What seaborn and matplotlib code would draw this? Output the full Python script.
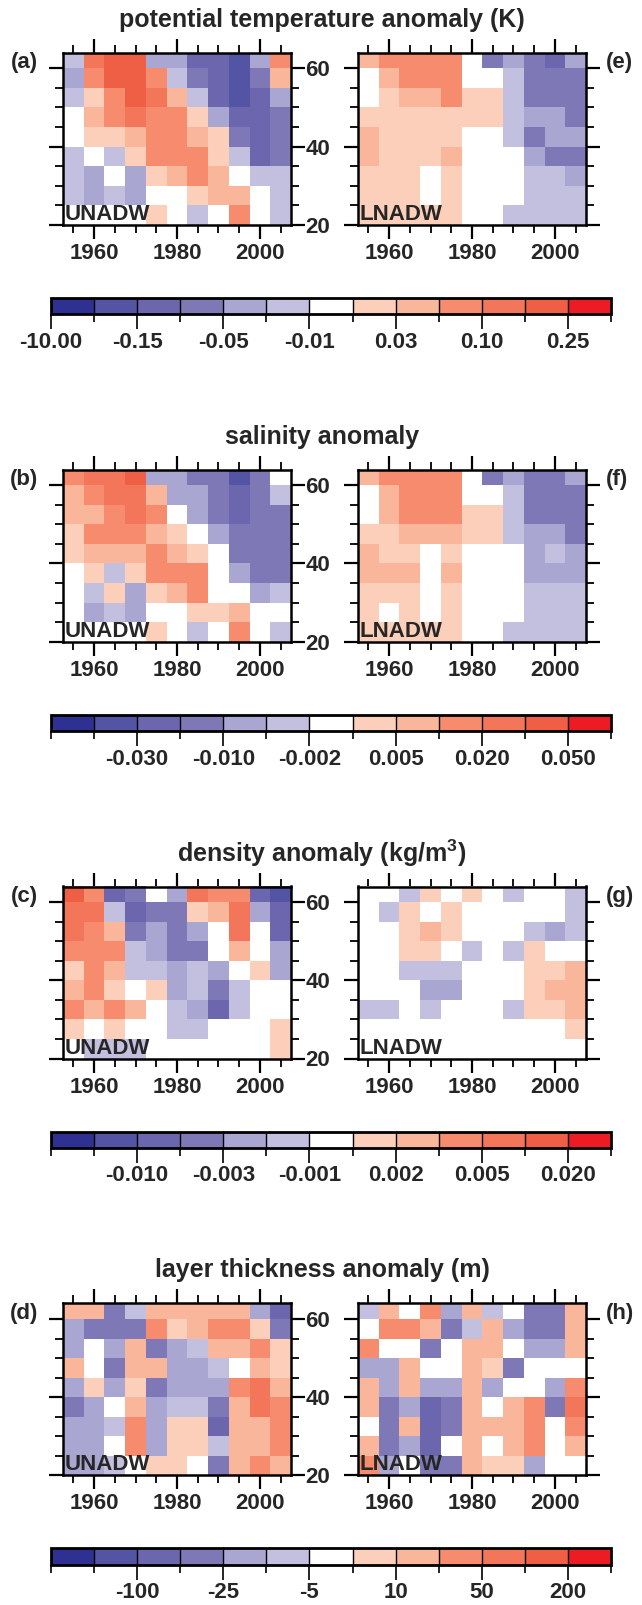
import matplotlib
matplotlib.use("Agg")
import matplotlib.pyplot as plt
import numpy as np
import pandas as pd
import seaborn as sns
from matplotlib.colors import ListedColormap, BoundaryNorm
from matplotlib.cm import ScalarMappable

sns.set_theme(style="white")
plt.rcParams["font.family"] = ["Liberation Sans", "DejaVu Sans"]
plt.rcParams["font.weight"] = "bold"
plt.rcParams["mathtext.fontset"] = "custom"
plt.rcParams["mathtext.rm"] = "Liberation Sans:bold"
plt.rcParams["mathtext.bf"] = "Liberation Sans:bold"

# 5-year bins (centres) and latitude bins (centres, north to south)
years = [1955, 1960, 1965, 1970, 1975, 1980, 1985, 1990, 1995, 2000, 2005]
latitude = [62.5, 57.5, 52.5, 47.5, 42.5, 37.5, 32.5, 27.5, 22.5]

# 13-class diverging palette
palette = ["#2e3192", "#5354a3", "#6b66ae", "#7e78b6", "#aaa6d2", "#c2bfdf",
           "#ffffff", "#fccfba", "#fab69b", "#f68b6e", "#f3765a", "#ef5f45", "#ed1c24"]

# class boundaries of each field
theta_levels = [-10.0, -0.25, -0.15, -0.10, -0.05, -0.03, -0.01, 0.01, 0.03, 0.05, 0.10, 0.15, 0.25, 10.0]
salt_levels = [-1.0, -0.05, -0.03, -0.02, -0.01, -0.005, -0.002, 0.002, 0.005, 0.01, 0.02, 0.03, 0.05, 1.0]
rho_levels = [-1.0, -0.02, -0.01, -0.005, -0.003, -0.002, -0.001, 0.001, 0.002, 0.003, 0.005, 0.01, 0.02, 1.0]
thk_levels = [-1000, -200, -100, -50, -25, -10, -5, 5, 10, 25, 50, 100, 200, 1000]

theta_ticklabels = ["-10.00", "-0.15", "-0.05", "-0.01", "0.03", "0.10", "0.25"]
salt_ticklabels = ["", "-0.030", "-0.010", "-0.002", "0.005", "0.020", "0.050"]
rho_ticklabels = ["", "-0.010", "-0.003", "-0.001", "0.002", "0.005", "0.020"]
thk_ticklabels = ["", "-100", "-25", "-5", "10", "50", "200"]

# anomaly classes per cell: A..F = negative classes (strongest first),
# '.' = near zero, 1..6 = positive classes (weakest first); rows north to south
theta_unadw = ["F455EECCBE3", "E3553FDCBD2", "F13542FCBCE", ".234331ECCD", ".1123321DCD",
               "F.F13331FCD", "FE.E1232.FF", "FEFE..122.F", "....1.F.3.F"]
theta_lnadw = ["23333.DEDCE", ".2333..FDDD", ".122311FDDD", "1111111FEED", "21111..FDEE",
               "21112...EDD", "111.1...FFE", "111.1...FFF", "11111..FFFF"]
salt_unadw = ["3445EEDDBD.", "23442EEDCDF", "22343.EDCDD", "133321.EDDD", "1222321.DDD",
              ".1F1333.EDD", ".F1E123..EF", ".EFE..112..", "....1.F.3.F"]
salt_lnadw = ["23333.DEDDE", ".2333..FDDD", ".233311FDDD", "1122211FEED", "211.1...EFE",
              "222.2...EEE", "111.1...FFF", "1.1.1...FFF", "11111..FFFF"]
rho_unadw = ["53CD.E433CB", "44FCDD124EC", "432DEDE.4.C", "333FEDD.2.E", "132FFEFE.1E",
             "231.1EFDF..", "3232.FECF..", "1.1..FF...1", ".FFF......1"]
rho_lnadw = ["..F1.1.F..F", ".F1.1.....F", "..121...FEF", "..11.F.F1..", "..FFF...112",
             "...EE...122", "FF.F...F112", "..........1", "..........."]
thk_unadw = ["22DF22222EC", "EDDD312331D", "E.E2DEF2231", "2.D22EEF.21", "E1E1DEEE342",
             "DE.2EFFD243", "EEF3E11C223", "EE.3E11F223", "EEF.11.D232"]
thk_lnadw = ["F2.3E2F.DD2", ".332DF2EDD2", "3..D.22.EE2", "EE2..21D...", "2E2EE2E..E3",
             "2DECD2.23D4", ".D2CD2223.3", "2DEC.2.23.2", "3E.DD211E.."]

CLASS_ORDER = "ABCDEF.123456"

rows = [
    ("potential temperature anomaly (K)", theta_levels, theta_ticklabels, theta_unadw, theta_lnadw, "a", "e"),
    ("salinity anomaly", salt_levels, salt_ticklabels, salt_unadw, salt_lnadw, "b", "f"),
    ("density anomaly (kg/m$^{3}$)", rho_levels, rho_ticklabels, rho_unadw, rho_lnadw, "c", "g"),
    ("layer thickness anomaly (m)", thk_levels, thk_ticklabels, thk_unadw, thk_lnadw, "d", "h"),
]


def to_frame(grid, levels):
    """Turn a grid of class codes into a DataFrame of class-centre values."""
    lev = np.asarray(levels, dtype=float)
    mids = 0.5 * (lev[:-1] + lev[1:])
    vals = [[mids[CLASS_ORDER.index(c)] for c in row] for row in grid]
    return pd.DataFrame(vals, index=latitude, columns=years)


W, H = 642, 1605
fig = plt.figure(figsize=(W / 100, H / 100), dpi=100)
cmap = ListedColormap(palette)

panel_w, panel_h = 228, 172
left_x = [63, 358]
pitch = 416.9
top0 = 52.7


def fig_axes(x, y, w, h):
    return fig.add_axes([x / W, 1 - (y + h) / H, w / W, h / H])


year_ticks = [1960, 1980, 2000]
lat_ticks = [60, 40, 20]
lat_top, lat_bot = 64.0, 20.0


def x_of(year):
    return (year - (years[0] - 2.5)) / 5.0


def y_of(lat):
    return (latitude[0] + 2.5 - lat) / 5.0


for k, (title, levels, ticklabels, g_up, g_lo, lab_l, lab_r) in enumerate(rows):
    top = top0 + pitch * k
    norm = BoundaryNorm(levels, cmap.N)
    for j, (grid, water, lab) in enumerate([(g_up, "UNADW", lab_l), (g_lo, "LNADW", lab_r)]):
        ax = fig_axes(left_x[j], top, panel_w, panel_h)
        df = to_frame(grid, levels)
        sns.heatmap(df, ax=ax, cmap=cmap, norm=norm, cbar=False,
                    xticklabels=False, yticklabels=False, linewidths=0)
        ax.set_xlabel("")
        ax.set_ylabel("")
        ax.set_xlim(0, len(years))
        ax.set_ylim(y_of(lat_bot), y_of(lat_top))
        for s in ax.spines.values():
            s.set_visible(True)
            s.set_linewidth(1.8)
            s.set_color("black")
        ax.set_xticks([x_of(v) for v in year_ticks])
        ax.set_xticks([x_of(v) for v in range(1955, 2010, 5)], minor=True)
        ax.set_yticks([y_of(v) for v in lat_ticks])
        ax.set_yticks([y_of(v) for v in range(25, 65, 5)], minor=True)
        ax.set_xticklabels([str(v) for v in year_ticks])
        ax.set_yticklabels([str(v) for v in lat_ticks])
        ax.tick_params(which="both", direction="out", top=True, bottom=True,
                       left=True, right=True, color="black", labelsize=16,
                       labelleft=False, labeltop=False, labelright=(j == 0))
        ax.tick_params(which="major", length=10, width=1.6, pad=3)
        ax.tick_params(axis="y", which="major", pad=0.5)
        ax.tick_params(which="minor", length=6, width=1.3)
        ax.text(0.005, 0.0, water, transform=ax.transAxes, ha="left", va="bottom",
                fontsize=16, fontweight="bold")
        if j == 0:
            fig.text(38.5 / W, 1 - (top + 10) / H, f"({lab})", ha="right", va="center",
                     fontsize=16, fontweight="bold")
        else:
            fig.text(606 / W, 1 - (top + 10) / H, f"({lab})", ha="left", va="center",
                     fontsize=16, fontweight="bold")

    fig.text(322 / W, 1 - (top - 33) / H, title, ha="center", va="center",
             fontsize=18, fontweight="bold")

    # colour bar with long ticks on labelled boundaries, short ticks elsewhere
    cax = fig_axes(51, top + 245, 560, 16.6)
    sm = ScalarMappable(norm=norm, cmap=cmap)
    cb = fig.colorbar(sm, cax=cax, orientation="horizontal", drawedges=True)
    cb.outline.set_linewidth(2.0)
    cb.outline.set_edgecolor("black")
    cb.dividers.set_color("black")
    cb.dividers.set_linewidth(1.0)
    major = levels[0:13:2]
    minor = levels[1:14:2]
    if ticklabels[0] == "":
        major = levels[2:13:2]
        minor = [levels[0]] + minor
        tl = ticklabels[1:]
    else:
        tl = ticklabels
    cb.set_ticks(major, labels=tl)
    cb.set_ticks(minor, minor=True)
    cax.tick_params(which="both", direction="out", color="black", labelsize=16,
                    bottom=True, top=False)
    cax.tick_params(which="major", length=11, width=1.2, pad=1.5)
    cax.tick_params(which="minor", length=6, width=1.2)

fig.savefig("out.png", dpi=100)
